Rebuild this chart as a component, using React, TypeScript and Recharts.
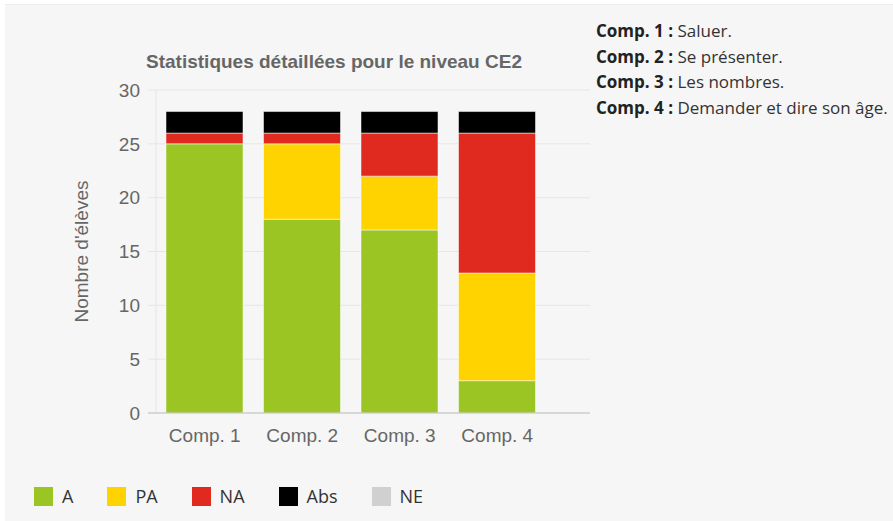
import React from 'react';
import { Bar, BarChart, CartesianGrid, XAxis, YAxis } from 'recharts';

const categories = ['Comp. 1', 'Comp. 2', 'Comp. 3', 'Comp. 4'];
const acquis = [25, 18, 17, 3];
const partiel = [0, 7, 5, 10];
const nonAcquis = [1, 1, 4, 13];
const absents = [2, 2, 2, 2];
const nonEvalues = [0, 0, 0, 0];
const yTicks = [0, 5, 10, 15, 20, 25, 30];

const seriesNames = ['A', 'PA', 'NA', 'Abs', 'NE'];
const seriesValues = [acquis, partiel, nonAcquis, absents, nonEvalues];

const compLabels = ['Comp. 1 :', 'Comp. 2 :', 'Comp. 3 :', 'Comp. 4 :'];
const compTexts = ['Saluer.', 'Se présenter.', 'Les nombres.', 'Demander et dire son âge.'];

const colors: Record<string, string> = {
    A: '#9ac522',
    PA: '#ffd300',
    NA: '#e12a1f',
    Abs: '#000000',
    NE: '#d0d0d0',
};

const data = categories.map((name, i) => {
    const row: Record<string, string | number> = { name };
    seriesNames.forEach((s, j) => {
        row[s] = seriesValues[j][i];
    });
    return row;
});

const axisFont = '"Liberation Sans", Arial, sans-serif';
const textFont = '"Open Sans", sans-serif';

const App: React.FC = () => {
    return (
        <div style={{ position: 'absolute', left: 0, top: 0, width: 893, height: 521, background: '#fff', overflow: 'hidden' }}>
            <div style={{ position: 'absolute', left: 5, top: 4, right: 0, bottom: 0, background: '#f6f6f6', borderTop: '1px solid #ececec' }} />

            <div style={{
                position: 'absolute', left: 0, top: 51, width: 668, textAlign: 'center',
                fontFamily: axisFont, fontWeight: 'bold', fontSize: 19, color: '#666',
            }}>
                Statistiques détaillées pour le niveau CE2
            </div>

            <div style={{ position: 'absolute', left: 0, top: 0, width: 600, height: 460 }}>
                <BarChart
                    width={600}
                    height={460}
                    data={data}
                    margin={{ top: 90, right: 10, left: 0, bottom: 0 }}
                    style={{ fontFamily: axisFont }}
                >
                    <CartesianGrid
                        stroke="#e6e6e6"
                        vertical={true}
                        verticalCoordinatesGenerator={({ offset }: any) => [offset.left + 8]}
                    />
                    <XAxis
                        dataKey="name"
                        height={47}
                        padding={{ left: 8, right: 44 }}
                        tickLine={false}
                        tickSize={0}
                        tickMargin={16}
                        axisLine={{ stroke: '#c0c0c0' }}
                        tick={{ fill: '#666', fontSize: 19 }}
                    />
                    <YAxis
                        width={148}
                        domain={[0, 30]}
                        ticks={yTicks}
                        tickLine={false}
                        tickSize={0}
                        tickMargin={8}
                        axisLine={false}
                        tick={{ fill: '#666', fontSize: 19 }}
                        label={{
                            value: "Nombre d'élèves",
                            angle: -90,
                            position: 'insideLeft',
                            offset: 81,
                            fill: '#666',
                            fontSize: 19,
                            style: { textAnchor: 'middle' },
                        }}
                    />
                    {seriesNames.map((s) => (
                        <Bar
                            key={s}
                            dataKey={s}
                            stackId="niveau"
                            fill={colors[s]}
                            stroke="#ffffff"
                            strokeWidth={0.5}
                            barSize={77}
                            isAnimationActive={false}
                        />
                    ))}
                </BarChart>
            </div>

            <div style={{ position: 'absolute', left: 596, top: 18, fontFamily: textFont, fontSize: 17, lineHeight: '25.5px', color: '#333', whiteSpace: 'nowrap' }}>
                {compLabels.map((c, i) => (
                    <div key={c}>
                        <b style={{ color: '#222' }}>{c}</b> {compTexts[i]}
                    </div>
                ))}
            </div>

            <div style={{ position: 'absolute', left: 34, top: 484, display: 'flex', alignItems: 'center', fontFamily: textFont, fontSize: 18, color: '#333' }}>
                {seriesNames.map((s) => (
                    <div key={s} style={{ display: 'flex', alignItems: 'center', marginRight: 34 }}>
                        <span style={{ width: 19, height: 19, background: colors[s], display: 'inline-block', marginRight: 9 }} />
                        <span>{s}</span>
                    </div>
                ))}
            </div>
        </div>
    );
};

export default App;
